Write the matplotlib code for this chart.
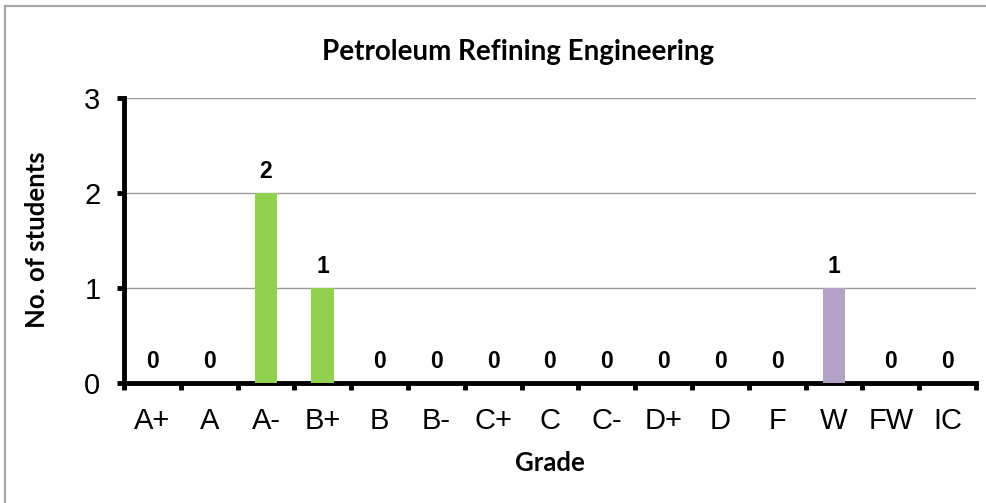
import matplotlib
matplotlib.use('Agg')

import matplotlib.pyplot as plt
from matplotlib.lines import Line2D

# DATA
GRADES = ["A+", "A", "A-", "B+", "B", "B-", "C+", "C", "C-", "D+", "D", "F", "W", "FW", "IC"]
STUDENTS = [0, 0, 2, 1, 0, 0, 0, 0, 0, 0, 0, 0, 1, 0, 0]
BAR_COLOURS = ["#92D050"] * 12 + ["#B3A2C7"] + ["#92D050"] * 2

TITLE = "Petroleum Refining Engineering"
X_LABEL = "Grade"
Y_LABEL = "No. of students"

DPI = 100
W, H = 987, 503


def main():
    fig = plt.figure(figsize=(W / DPI, H / DPI), dpi=DPI)

    # thin grey frame, only top and left edges show in the cropped original
    fx, fy = 5.5 / W, 1 - 5.5 / H
    fig.add_artist(Line2D([fx, 1], [fy, fy], transform=fig.transFigure,
                          color="#A6A6A6", linewidth=1.6))
    fig.add_artist(Line2D([fx, fx], [0, fy], transform=fig.transFigure,
                          color="#A6A6A6", linewidth=1.6))

    left, right = 124 / W, 976 / W
    bottom, top = (H - 383) / H, (H - 98) / H
    ax = fig.add_axes([left, bottom, right - left, top - bottom])

    x = list(range(len(GRADES)))
    ax.bar(x, STUDENTS, width=0.4, color=BAR_COLOURS, zorder=3)

    for xi, v in zip(x, STUDENTS):
        ax.annotate(str(v), (xi, v), xytext=(0, 7), textcoords="offset points",
                    ha="center", va="bottom", fontsize=16.5, fontweight="bold",
                    family="Liberation Sans", zorder=4)

    ax.set_xlim(-0.5, len(GRADES) - 0.5)
    ax.set_ylim(0, 3)
    ax.set_yticks([0, 1, 2, 3])
    ax.yaxis.grid(True, color="#999999", linewidth=1.0, zorder=0)
    ax.set_axisbelow(True)

    # category labels centred, tick marks on the boundaries
    ax.set_xticks([i - 0.5 for i in range(len(GRADES) + 1)])
    ax.set_xticklabels([])
    ax.set_xticks(x, minor=True)
    ax.set_xticklabels(GRADES, minor=True, family="Liberation Sans", fontsize=21)
    ax.tick_params(axis="x", which="minor", length=0, pad=17)
    ax.tick_params(axis="x", which="major", direction="out", length=5, width=3.5)
    ax.tick_params(axis="y", direction="out", length=5, width=3.5, pad=12)
    for lbl in ax.get_yticklabels():
        lbl.set_family("Liberation Sans")
        lbl.set_fontsize(21)

    for side in ["top", "right"]:
        ax.spines[side].set_visible(False)
    for side in ["left", "bottom"]:
        ax.spines[side].set_linewidth(3.5)
        ax.spines[side].set_color("black")
        ax.spines[side].set_capstyle("projecting")

    fig.text(518 / W, 1 - 52 / H, TITLE, ha="center", va="center",
             fontsize=20, fontweight="bold", family="Lato")
    fig.text((left + right) / 2, 1 - 463 / H, X_LABEL, ha="center", va="center",
             fontsize=18.5, fontweight="bold", family="Lato")
    fig.text(37 / W, 1 - 240 / H, Y_LABEL, ha="center", va="center", rotation=90,
             fontsize=18.5, fontweight="bold", family="Lato")

    fig.savefig("out.png", dpi=DPI)
    plt.close(fig)


if __name__ == "__main__":
    main()
